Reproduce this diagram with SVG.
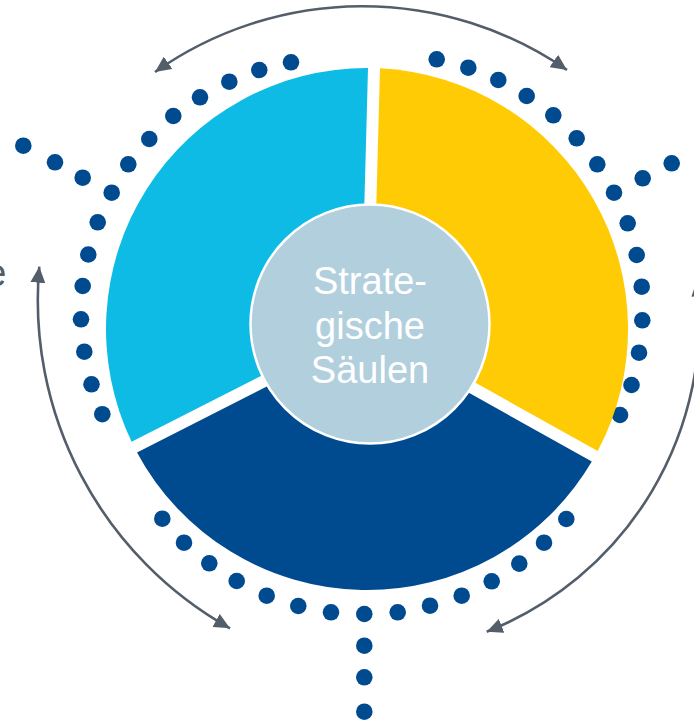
<svg xmlns="http://www.w3.org/2000/svg" width="694" height="721" viewBox="0 0 694 721">
<style>
.dot{fill:#004A8F}
.arc{fill:none;stroke:#535E6A;stroke-width:2.6}
.lbl{font-family:"Liberation Sans",Arial,sans-serif;font-size:38px;fill:#FFFFFF;text-anchor:middle}
.side{font-family:"Liberation Sans",Arial,sans-serif;font-size:38px;fill:#535E6A}
</style>
<defs>
<marker id="ah" markerUnits="userSpaceOnUse" markerWidth="16" markerHeight="15" refX="16" refY="7.5" orient="auto-start-reverse" viewBox="0 0 16 15">
<path d="M0,0 L16,7.5 L0,15 Z" fill="#535E6A"/>
</marker>
</defs>
<rect width="694" height="721" fill="#FFFFFF"/>
<text class="side" x="6.5" y="286" text-anchor="end">e</text>
<g id="connectors">
<path class="arc" d="M155,72 A360,360 0 0 1 567,70" marker-start="url(#ah)" marker-end="url(#ah)"/>
<path class="arc" d="M39.3,266.7 A376,376 0 0 0 230,628.3" marker-start="url(#ah)" marker-end="url(#ah)"/>
<path class="arc" d="M697,280 A336,336 0 0 1 486.7,631.7" marker-start="url(#ah)" marker-end="url(#ah)"/>
</g>
<g id="dots-left">
<circle class="dot" cx="23.3" cy="145.7" r="8.3"/>
<circle class="dot" cx="55" cy="162.3" r="8.3"/>
<circle class="dot" cx="82.7" cy="177.7" r="8.3"/>
<circle class="dot" cx="111.7" cy="192.7" r="8.3"/>
<circle class="dot" cx="128.3" cy="164.3" r="8.3"/>
<circle class="dot" cx="149.3" cy="139" r="8.3"/>
<circle class="dot" cx="173.3" cy="116" r="8.3"/>
<circle class="dot" cx="200" cy="97.3" r="8.3"/>
<circle class="dot" cx="229.3" cy="81.7" r="8.3"/>
<circle class="dot" cx="259.3" cy="70" r="8.3"/>
<circle class="dot" cx="291" cy="62.3" r="8.3"/>
<circle class="dot" cx="97.7" cy="222.3" r="8.3"/>
<circle class="dot" cx="88.3" cy="254.5" r="8.3"/>
<circle class="dot" cx="82.7" cy="286" r="8.3"/>
<circle class="dot" cx="81" cy="319.3" r="8.3"/>
<circle class="dot" cx="84.3" cy="351.7" r="8.3"/>
<circle class="dot" cx="91.5" cy="384.3" r="8.3"/>
<circle class="dot" cx="102.3" cy="414.2" r="8.3"/>
</g>
<g id="dots-right">
<circle class="dot" cx="436.7" cy="59.3" r="8.3"/>
<circle class="dot" cx="468.3" cy="67.7" r="8.3"/>
<circle class="dot" cx="498.3" cy="80" r="8.3"/>
<circle class="dot" cx="526.7" cy="96" r="8.3"/>
<circle class="dot" cx="553.3" cy="115.3" r="8.3"/>
<circle class="dot" cx="576.7" cy="138.3" r="8.3"/>
<circle class="dot" cx="597.3" cy="164.3" r="8.3"/>
<circle class="dot" cx="614" cy="192.7" r="8.3"/>
<circle class="dot" cx="642.7" cy="178.3" r="8.3"/>
<circle class="dot" cx="671.7" cy="163.3" r="8.3"/>
<circle class="dot" cx="627.7" cy="223.3" r="8.3"/>
<circle class="dot" cx="636.7" cy="255" r="8.3"/>
<circle class="dot" cx="641.7" cy="286.7" r="8.3"/>
<circle class="dot" cx="642.3" cy="320.3" r="8.3"/>
<circle class="dot" cx="639" cy="352.7" r="8.3"/>
<circle class="dot" cx="631.5" cy="385" r="8.3"/>
<circle class="dot" cx="620" cy="415" r="8.3"/>
</g>
<g id="dots-bottom">
<circle class="dot" cx="162.3" cy="518.7" r="8.3"/>
<circle class="dot" cx="184" cy="542.7" r="8.3"/>
<circle class="dot" cx="209.3" cy="563.3" r="8.3"/>
<circle class="dot" cx="236.7" cy="581" r="8.3"/>
<circle class="dot" cx="266.7" cy="595.7" r="8.3"/>
<circle class="dot" cx="298.3" cy="606" r="8.3"/>
<circle class="dot" cx="331" cy="612.3" r="8.3"/>
<circle class="dot" cx="364.3" cy="614" r="8.3"/>
<circle class="dot" cx="397.7" cy="612.3" r="8.3"/>
<circle class="dot" cx="430" cy="605.7" r="8.3"/>
<circle class="dot" cx="461.7" cy="595.7" r="8.3"/>
<circle class="dot" cx="491.7" cy="581.3" r="8.3"/>
<circle class="dot" cx="519.3" cy="563.6" r="8.3"/>
<circle class="dot" cx="544" cy="542.7" r="8.3"/>
<circle class="dot" cx="566.3" cy="519" r="8.3"/>
<circle class="dot" cx="364.3" cy="645.7" r="8.3"/>
<circle class="dot" cx="364.3" cy="677.3" r="8.3"/>
<circle class="dot" cx="364.3" cy="711.7" r="8.3"/>
</g>
<g id="sector-lightblue">
<path d="M361.1,325.3 L131.6,441.7 A261,261 0 0 1 368.0,68.0 Z" fill="#0EBBE4"/>
</g>
<g id="sector-yellow">
<path d="M373.1,325.5 L380.0,68.3 A261,261 0 0 1 597.7,451.1 Z" fill="#FFCB05"/>
</g>
<g id="sector-darkblue">
<path d="M366.9,335.8 L591.8,461.6 A261,261 0 0 1 137.0,452.4 Z" fill="#004A8F"/>
</g>
<g id="center">
<circle cx="370" cy="324" r="119.5" fill="#B2CFDE" stroke="#FFFFFF" stroke-width="2.5"/>
<text class="lbl" x="370" y="294.3">Strate-</text>
<text class="lbl" x="370" y="339">gische</text>
<text class="lbl" x="370" y="383">Säulen</text>
</g>
</svg>
